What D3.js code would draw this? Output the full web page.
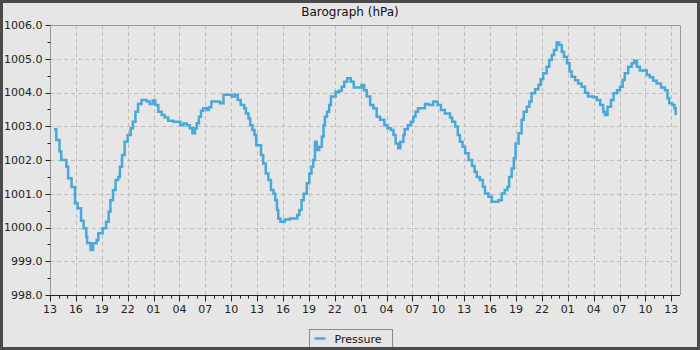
<!DOCTYPE html>
<html>
<head>
<meta charset="utf-8">
<script src="https://cdn.jsdelivr.net/npm/d3@7"></script>
<style>
  body { margin: 0; background: #e6e6e6; }
  svg { display: block; font-family: "DejaVu Sans", sans-serif; }
</style>
</head>
<body>
<div class="barograph"></div>
<script>
// hours since 13:00 on the first day
const hours = [0.46, 0.73, 1.1, 1.3, 1.9, 2.1, 2.5, 2.9, 3.2, 3.6, 3.9, 4.2, 4.3, 4.7, 5.0, 5.4, 5.6, 6.1, 6.5, 6.8,
  7.0, 7.3, 7.6, 7.9, 8.1, 8.35, 8.65, 9.0, 9.35, 9.6, 9.9, 10.2, 10.6, 11.2, 11.55, 11.9, 12.2, 12.55, 12.95, 13.3,
  13.7, 14.3, 14.7, 15.1, 15.45, 15.85, 16.2, 16.5, 16.8, 17.0, 17.25, 17.5, 17.75, 18.15, 18.4, 18.7, 19.3, 19.7, 20.1, 20.65,
  21.05, 21.4, 21.75, 22.1, 22.5, 22.7, 23.0, 23.2, 23.45, 23.7, 23.9, 24.1, 24.45, 24.7, 25.0, 25.3, 25.6, 25.9, 26.1, 26.3,
  26.45, 26.7, 27.2, 27.8, 28.4, 28.65, 28.9, 29.15, 29.4, 29.75, 30.05, 30.3, 30.5, 30.7, 30.9, 31.2, 31.5, 31.7, 31.85, 32.1,
  32.35, 32.55, 32.8, 33.1, 33.5, 33.8, 34.1, 34.45, 34.85, 35.2, 35.7, 36.1, 36.4, 36.7, 37.1, 37.45, 37.85, 38.25, 38.75, 39.1,
  39.5, 39.8, 40.05, 40.35, 40.6, 40.95, 41.1, 41.45, 41.8, 42.1, 42.35, 42.65, 43.05, 43.45, 43.9, 44.4, 44.9, 45.3, 45.75, 46.35,
  46.6, 46.95, 47.25, 47.5, 47.8, 48.1, 48.5, 48.9, 49.2, 49.45, 49.8, 50.15, 50.4, 50.8, 51.2, 51.55, 51.95, 52.35, 52.7, 53.0,
  53.2, 53.5, 53.75, 53.95, 54.3, 54.65, 54.9, 55.25, 55.55, 55.8, 56.2, 56.6, 56.85, 57.15, 57.55, 57.85, 58.15, 58.4, 58.7, 59.0,
  59.3, 59.55, 59.9, 60.2, 60.45, 60.85, 61.2, 61.6, 62.0, 62.35, 62.95, 63.35, 63.75, 64.1, 64.3, 64.6, 65.0, 65.3, 65.7, 66.05,
  66.35, 66.6, 67.0, 67.4, 67.7, 68.0, 68.35, 68.75, 69.15, 69.5, 69.9, 70.3, 70.8, 71.25, 71.55, 71.75, 72.1, 72.35, 72.5];

const pressure = [1002.91, 1002.59, 1002.25, 1002.0, 1001.8, 1001.46, 1001.2, 1000.72, 1000.57, 1000.2, 999.98, 999.73, 999.54, 999.33, 999.53, 999.63, 999.83, 999.98, 1000.17, 1000.47,
  1000.81, 1001.11, 1001.41, 1001.5, 1001.8, 1002.15, 1002.54, 1002.74, 1002.94, 1003.13, 1003.43, 1003.66, 1003.78, 1003.73, 1003.66, 1003.76, 1003.63, 1003.43, 1003.33, 1003.26,
  1003.16, 1003.13, 1003.13, 1003.03, 1003.08, 1003.03, 1002.94, 1002.79, 1002.94, 1003.09, 1003.28, 1003.46, 1003.53, 1003.48, 1003.56, 1003.73, 1003.73, 1003.68, 1003.93, 1003.93,
  1003.88, 1003.93, 1003.78, 1003.63, 1003.53, 1003.38, 1003.23, 1003.03, 1002.89, 1002.74, 1002.44, 1002.44, 1002.15, 1001.9, 1001.6, 1001.41, 1001.11, 1001.0, 1000.81, 1000.52,
  1000.27, 1000.17, 1000.24, 1000.27, 1000.27, 1000.37, 1000.52, 1000.81, 1001.0, 1001.31, 1001.6, 1001.8, 1002.0, 1002.54, 1002.3, 1002.39, 1002.69, 1003.03, 1003.28, 1003.43,
  1003.63, 1003.88, 1003.88, 1004.02, 1004.05, 1004.17, 1004.32, 1004.42, 1004.32, 1004.15, 1004.15, 1004.22, 1004.07, 1003.88, 1003.63, 1003.53, 1003.28, 1003.19, 1003.03, 1002.94,
  1002.89, 1002.74, 1002.49, 1002.35, 1002.54, 1002.74, 1002.91, 1003.03, 1003.13, 1003.28, 1003.43, 1003.53, 1003.53, 1003.66, 1003.63, 1003.73, 1003.63, 1003.48, 1003.38, 1003.26,
  1003.13, 1002.99, 1002.74, 1002.54, 1002.39, 1002.2, 1002.0, 1001.82, 1001.65, 1001.5, 1001.41, 1001.21, 1001.01, 1000.91, 1000.76, 1000.76, 1000.81, 1001.01, 1001.11, 1001.21,
  1001.5, 1001.75, 1002.05, 1002.49, 1002.79, 1003.19, 1003.43, 1003.58, 1003.73, 1003.98, 1004.1, 1004.22, 1004.39, 1004.57, 1004.76, 1004.96, 1005.11, 1005.26, 1005.48, 1005.41,
  1005.21, 1005.06, 1004.87, 1004.62, 1004.47, 1004.36, 1004.27, 1004.17, 1003.99, 1003.88, 1003.86, 1003.78, 1003.63, 1003.43, 1003.33, 1003.58, 1003.78, 1003.98, 1004.07, 1004.17,
  1004.37, 1004.57, 1004.76, 1004.87, 1004.94, 1004.76, 1004.65, 1004.65, 1004.52, 1004.45, 1004.35, 1004.27, 1004.15, 1004.07, 1003.83, 1003.68, 1003.63, 1003.53, 1003.33];

const xTickHours = d3.range(0, 73, 3);
const xTickLabels = ["13", "16", "19", "22", "01", "04", "07", "10", "13", "16", "19", "22", "01", "04", "07", "10", "13",
  "16", "19", "22", "01", "04", "07", "10", "13"];
const yTicks = [998, 999, 1000, 1001, 1002, 1003, 1004, 1005, 1006];

const seriesName = "Pressure";
const chartTitle = "Barograph (hPa)";

const width = 700, height = 350;
const plotLeft = 50, plotRight = 680, plotTop = 25, plotBottom = 295;

const svg = d3.select(".barograph")
  .append("svg")
  .attr("width", width)
  .attr("height", height);

svg.append("rect")
  .attr("width", width).attr("height", height)
  .style("fill", "#e6e6e6");

const x = d3.scaleLinear().domain([0, 73]).range([plotLeft, plotRight]);
const y = d3.scaleLinear().domain([998, 1006]).range([plotBottom, plotTop]);

// grid
svg.append("g").selectAll("line")
  .data(xTickHours.slice(1))
  .enter().append("line")
  .attr("x1", d => Math.round(x(d)) + 0.5).attr("x2", d => Math.round(x(d)) + 0.5)
  .attr("y1", plotTop).attr("y2", plotBottom)
  .style("stroke", "#bdbdbd").style("stroke-dasharray", "4,3");

svg.append("g").selectAll("line")
  .data(yTicks.slice(1, -1))
  .enter().append("line")
  .attr("x1", plotLeft).attr("x2", plotRight)
  .attr("y1", d => Math.round(y(d)) + 0.5).attr("y2", d => Math.round(y(d)) + 0.5)
  .style("stroke", "#bdbdbd").style("stroke-dasharray", "4,3");

// plot frame (top and right)
svg.append("path")
  .attr("d", `M${plotLeft},${plotTop + 0.5}H${plotRight + 0.5}V${plotBottom}`)
  .style("fill", "none").style("stroke", "#999");

// pressure line
const line = d3.line()
  .x((d, i) => x(hours[i]))
  .y(d => y(d))
  .curve(d3.curveStepAfter);

svg.append("path")
  .datum(pressure)
  .attr("d", line)
  .style("fill", "none")
  .style("stroke", "#4aa8d8")
  .style("stroke-width", 2.5);

// y axis
const yAxis = svg.append("g").attr("transform", `translate(${plotLeft + 0.5},0)`);
yAxis.append("line").attr("y1", plotTop).attr("y2", plotBottom).style("stroke", "#999");
yAxis.selectAll(".minor")
  .data(d3.range(998, 1006.01, 0.5))
  .enter().append("line")
  .attr("x1", d => (d % 1 === 0) ? -5 : -3).attr("x2", 0)
  .attr("y1", d => Math.round(y(d)) + 0.5).attr("y2", d => Math.round(y(d)) + 0.5)
  .style("stroke", "#222");
yAxis.selectAll("text")
  .data(yTicks)
  .enter().append("text")
  .attr("x", -8)
  .attr("y", d => y(d))
  .attr("dy", "0.35em")
  .style("text-anchor", "end")
  .style("font-size", "11px")
  .style("fill", "#222")
  .text(d => d.toFixed(1));

// x axis
const xAxis = svg.append("g").attr("transform", `translate(0,${plotBottom + 0.5})`);
xAxis.append("line").attr("x1", plotLeft).attr("x2", plotRight).style("stroke", "#222");
xAxis.selectAll(".tick")
  .data(d3.range(0, 73, 1))
  .enter().append("line")
  .attr("x1", d => Math.round(x(d)) + 0.5).attr("x2", d => Math.round(x(d)) + 0.5)
  .attr("y1", 0).attr("y2", d => d % 3 === 0 ? 6 : 3)
  .style("stroke", "#222");
xAxis.selectAll("text")
  .data(xTickHours)
  .enter().append("text")
  .attr("x", d => x(d))
  .attr("y", 17)
  .style("text-anchor", "middle")
  .style("font-size", "11px")
  .style("fill", "#222")
  .text((d, i) => xTickLabels[i]);

// title
svg.append("text")
  .attr("x", 350).attr("y", 16)
  .style("text-anchor", "middle")
  .style("font-size", "12px")
  .style("fill", "#111")
  .text(chartTitle);

// legend
const legend = svg.append("g").attr("transform", "translate(309.5,329.5)");
legend.append("rect")
  .attr("width", 83).attr("height", 19)
  .style("fill", "#e6e6e6").style("stroke", "#888");
legend.append("line")
  .attr("x1", 5).attr("x2", 16).attr("y1", 9).attr("y2", 9)
  .style("stroke", "#4aa8d8").style("stroke-width", 2.5);
legend.append("text")
  .attr("x", 25).attr("y", 13)
  .style("font-size", "11px")
  .style("fill", "#111")
  .text(seriesName);

// outer frame
svg.append("rect")
  .attr("x", 1.5).attr("y", 1.5).attr("width", width - 3).attr("height", height - 3)
  .style("fill", "none").style("stroke", "#4a4a4a").style("stroke-width", 3);
</script>
</body>
</html>
